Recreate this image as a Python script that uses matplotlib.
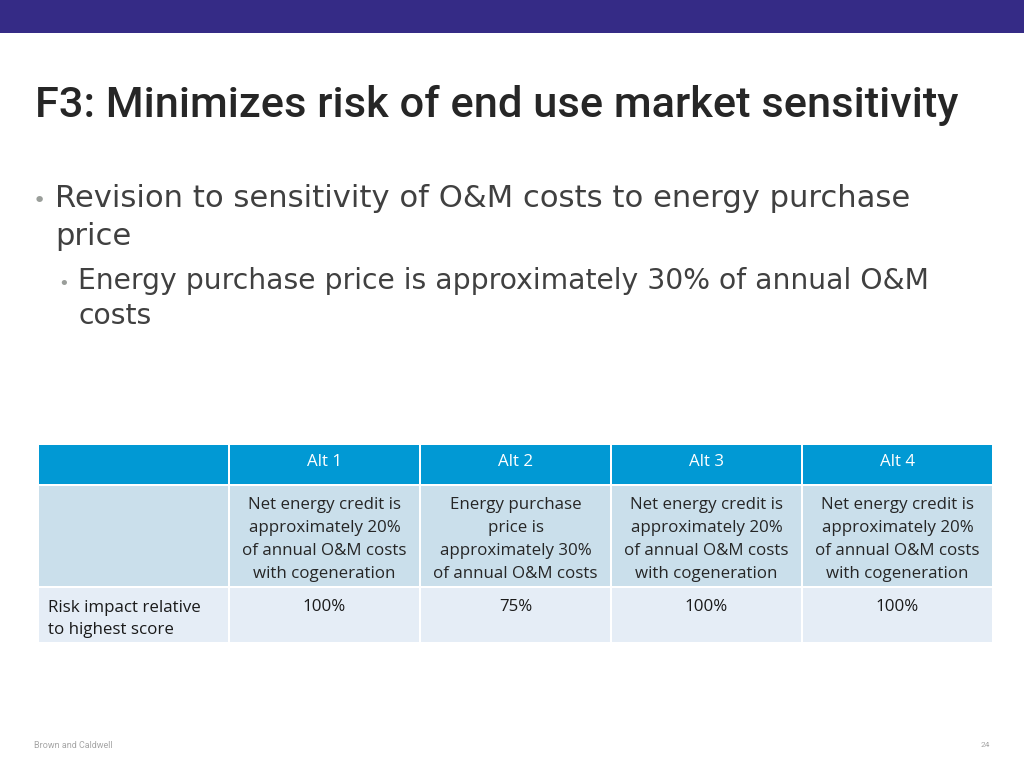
import matplotlib
matplotlib.use("Agg")
import matplotlib.pyplot as plt
from matplotlib.patches import Rectangle

# ---- data ----
title = "F3: Minimizes risk of end use market sensitivity"
bullet1 = ["Revision to sensitivity of O&M costs to energy purchase", "price"]
bullet2 = ["Energy purchase price is approximately 30% of annual O&M", "costs"]
alternatives = ["Alt 1", "Alt 2", "Alt 3", "Alt 4"]
descriptions = [
    "Net energy credit is\napproximately 20%\nof annual O&M costs\nwith cogeneration",
    "Energy purchase\nprice is\napproximately 30%\nof annual O&M costs",
    "Net energy credit is\napproximately 20%\nof annual O&M costs\nwith cogeneration",
    "Net energy credit is\napproximately 20%\nof annual O&M costs\nwith cogeneration",
]
row_label = "Risk impact relative\nto highest score"
risk_values = ["100%", "75%", "100%", "100%"]
footer_left = "Brown and Caldwell"
footer_right = "24"

# ---- figure ----
fig = plt.figure(figsize=(10.24, 7.68), dpi=100)
ax = fig.add_axes([0, 0, 1, 1])
ax.set_xlim(0, 1024)
ax.set_ylim(768, 0)
ax.axis("off")

# top band
ax.add_patch(Rectangle((0, 0), 1024, 33, color="#352b86", lw=0))

# title
ax.text(35, 117, title, fontsize=31.2, family="Roboto", weight="medium", color="#262626",
        va="baseline", ha="left")

body_font = "DejaVu Sans"
txt_col = "#404040"
# bullets
ax.text(33, 207, "\u2022", fontsize=16, color="#9a9e9a", va="baseline", family="DejaVu Sans")
ax.text(55, 207, bullet1[0], fontsize=22.1, family=body_font, color=txt_col, va="baseline")
ax.text(55, 245, bullet1[1], fontsize=22.1, family=body_font, color=txt_col, va="baseline")
ax.text(58, 289, "\u2022", fontsize=13, color="#9a9e9a", va="baseline", family="DejaVu Sans")
ax.text(78, 289, bullet2[0], fontsize=20.3, family=body_font, color=txt_col, va="baseline")
ax.text(78, 324, bullet2[1], fontsize=20.3, family=body_font, color=txt_col, va="baseline")

# table
col_edges = [38, 229, 420, 611, 802, 993]
row_edges = [444, 485, 587, 643]
row_colors = ["#0199d4", "#cadfeb", "#e5edf6"]
gap = 1.0
for r in range(3):
    for c in range(5):
        x0, x1 = col_edges[c], col_edges[c + 1]
        y0, y1 = row_edges[r], row_edges[r + 1]
        ax.add_patch(Rectangle((x0 + gap, y0 + gap), x1 - x0 - 2 * gap, y1 - y0 - 2 * gap,
                               color=row_colors[r], lw=0))

tab_font = "Open Sans"
tfs = 12.2
for i, alt in enumerate(alternatives):
    cx = (col_edges[i + 1] + col_edges[i + 2]) / 2
    ax.text(cx, 462, alt, fontsize=tfs, family=tab_font, color="white", ha="center", va="center")
    ax.text(cx, 497, descriptions[i], fontsize=tfs, family=tab_font, color="#262626",
            ha="center", va="top", linespacing=1.58)
    ax.text(cx, 607, risk_values[i], fontsize=tfs, family=tab_font, color="#1a1a1a",
            ha="center", va="center")
ax.text(48, 599.5, row_label, fontsize=tfs, family=tab_font, color="#1a1a1a",
        ha="left", va="top", linespacing=1.58)

# footer
ax.text(34, 746, footer_left, fontsize=6.5, family="Roboto", color="#a6a6a6", va="center")
ax.text(990, 745, footer_right, fontsize=6, family="Roboto", color="#a6a6a6", va="center", ha="right")

fig.savefig("out.png", dpi=100)
